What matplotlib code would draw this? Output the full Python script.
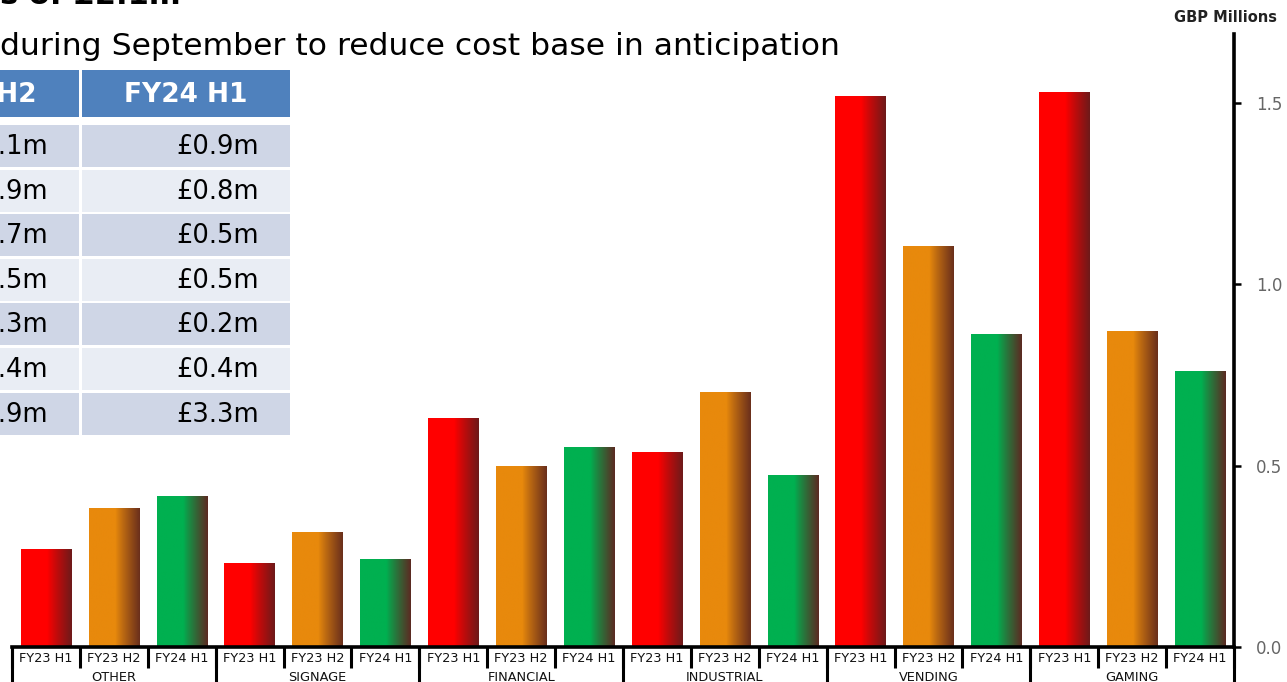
import numpy as np
import matplotlib
matplotlib.use("Agg")
import matplotlib.pyplot as plt
from matplotlib.colors import to_rgb
from matplotlib.patches import Rectangle
import matplotlib.transforms as mtransforms

# ---- data ----
segments = ["OTHER", "SIGNAGE", "FINANCIAL", "INDUSTRIAL", "VENDING", "GAMING"]
periods = ["FY23 H1", "FY23 H2", "FY24 H1"]
fy23_h1 = [0.268, 0.229, 0.630, 0.536, 1.517, 1.528]
fy23_h2 = [0.381, 0.315, 0.497, 0.702, 1.105, 0.870]
fy24_h1 = [0.414, 0.240, 0.550, 0.472, 0.862, 0.760]
yticks = [0.0, 0.5, 1.0, 1.5]

# table on the slide (left part is cut off)
table_header = ["FY23 H2", "FY24 H1"]
table_fy23_h2 = ["£1.1m", "£0.9m", "£0.7m", "£0.5m", "£0.3m", "£0.4m", "£3.9m"]
table_fy24_h1 = ["£0.9m", "£0.8m", "£0.5m", "£0.5m", "£0.2m", "£0.4m", "£3.3m"]

title_top = "s of £2.1m"
title_line = "during September to reduce cost base in anticipation"

base_colors = ["#FF0000", "#E8890C", "#00B050"]
dark_colors = ["#6E1A1A", "#6A2F1C", "#5C2A22"]

W, H = 1287, 682
fig = plt.figure(figsize=(W / 100, H / 100), dpi=100)
plt.rcParams['font.family'] = ['DejaVu Sans']


def px(x, y):
    """figure-pixel (from top-left) to figure fraction"""
    return x / W, 1 - y / H


ax = fig.add_axes([12 / W, 35 / H, (1234 - 12) / W, (647 - 34) / H])

# bar values in slot order
values = []
for i in range(len(segments)):
    values += [fy23_h1[i], fy23_h2[i], fy24_h1[i]]
xs = np.arange(len(values))

bars = ax.bar(xs, values, width=0.74, color="none", edgecolor="none", zorder=2)

# horizontal gradient: flat colour, then darkens towards the right edge
for k, rect in enumerate(bars.patches):
    c0 = np.array(to_rgb(base_colors[k % 3]))
    c1 = np.array(to_rgb(dark_colors[k % 3]))
    t = np.linspace(0, 1, 128)
    w = np.clip((t - 0.52) / 0.48, 0, 1) ** 0.9
    grad = c0[None, :] * (1 - w[:, None]) + c1[None, :] * w[:, None]
    x0 = rect.get_x()
    ax.imshow(grad[None, :, :], extent=(x0, x0 + rect.get_width(), 0, rect.get_height()),
              aspect="auto", zorder=2, interpolation="bilinear")

ax.set_xlim(-0.5, len(values) - 0.5)
ax.set_ylim(0, 1.69)

# axes styling
for side in ["left", "top"]:
    ax.spines[side].set_visible(False)
ax.spines["right"].set_linewidth(2.6)
ax.spines["bottom"].set_linewidth(2.6)
ax.yaxis.tick_right()
ax.set_yticks(yticks)
ax.set_yticklabels([f"{v:.1f}" for v in yticks])
ax.tick_params(axis="y", direction="out", length=5, width=1.8, pad=11,
               labelsize=12, colors="black", labelcolor="#666666")

# separators between slots
bounds = np.arange(-0.5, len(values), 1.0)
ax.set_xticks(bounds)
ax.set_xticklabels([])
ax.tick_params(axis="x", direction="out", length=15, width=2.2)

trans = mtransforms.blended_transform_factory(ax.transData, ax.transAxes)
for g in range(len(segments) + 1):
    xb = g * 3 - 0.5
    ax.plot([xb, xb], [0, -0.08], color="black", lw=2.2, transform=trans, clip_on=False)

for k, x in enumerate(xs):
    ax.text(x, -0.0195, periods[k % 3], transform=trans, ha="center", va="center",
            fontsize=9.3, color="#111111")
for g, name in enumerate(segments):
    ax.text(g * 3 + 1, -0.049, name, transform=trans, ha="center", va="center",
            fontsize=9.3, color="#111111")

fig.text(*px(1226, 17), "GBP Millions", ha="center", va="center", fontsize=10.5,
         fontweight="bold", color="#222222")

# titles (slide is cropped at the top/left)
fig.text(*px(0, 3.5), title_top, ha="left", va="baseline", fontsize=22,
         fontweight="bold", color="black")
fig.text(*px(0, 55), title_line, ha="left", va="baseline", fontsize=22.6, color="black")

# ---- table overlay ----
col_left = [-130, 82]
col_right = [79, 290]
header_top, header_bot = 70, 117
row_top0, row_pitch, row_h = 125, 44.6, 42
light, darkrow = "#E9EDF4", "#CFD6E6"

for c in range(2):
    x0, x1 = col_left[c], col_right[c]
    fx, fy = px(x0, header_bot)
    fig.patches.append(Rectangle((fx, fy), (x1 - x0) / W, (header_bot - header_top) / H,
                                 transform=fig.transFigure, facecolor="#4F81BD",
                                 edgecolor="none", zorder=5))
    fig.text(*px((x0 + x1) / 2, (header_top + header_bot) / 2 + 1), table_header[c],
             ha="center", va="center", fontsize=19, fontweight="bold", color="white", zorder=6)
    col_vals = table_fy23_h2 if c == 0 else table_fy24_h1
    for r, val in enumerate(col_vals):
        top = row_top0 + r * row_pitch
        fx, fy = px(x0, top + row_h)
        fig.patches.append(Rectangle((fx, fy), (x1 - x0) / W, row_h / H,
                                     transform=fig.transFigure,
                                     facecolor=darkrow if r % 2 == 0 else light,
                                     edgecolor="none", zorder=5))
        fig.text(*px(x1 - 31, top + row_h / 2 + 1), val, ha="right", va="center",
                 fontsize=18.5, color="black", zorder=6)

fig.savefig("out.png", dpi=100)
